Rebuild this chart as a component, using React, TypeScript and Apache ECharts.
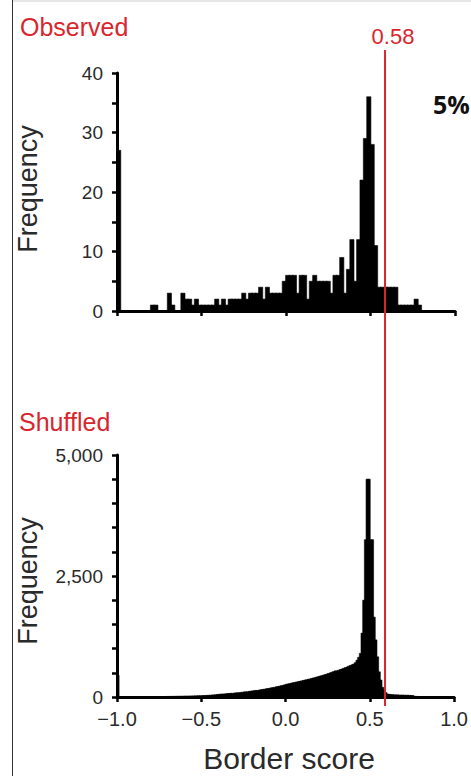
import React, { useEffect, useRef } from "react";
import * as echarts from "echarts";

// Border-score range shared by both histograms
const scoreMin = -1;
const scoreMax = 1;
const scoreTickStep = 0.5;

// Observed cells: counts per 0.02-wide bin, from -1.00 to 1.00
const observedBinWidth = 0.02;
const observedCounts = [
  27, 0, 0, 0, 0, 0, 0, 0, 0, 0,
  1, 1, 0, 0, 0, 3, 1, 0, 0, 3,
  2, 2, 1, 2, 1, 1, 1, 1, 1, 2,
  1, 2, 1, 2, 2, 2, 2, 3, 2, 3,
  3, 3, 4, 2, 4, 3, 3, 3, 3, 5,
  6, 6, 6, 3, 6, 6, 2, 5, 6, 5,
  5, 5, 5, 3, 6, 6, 9, 3, 7, 12,
  5, 12, 22, 29, 36, 28, 11, 4, 4, 4,
  4, 4, 4, 1, 1, 1, 1, 1, 2, 1,
  0, 0, 0, 0, 0, 0, 0, 0, 0, 0,
];

// Shuffled data: counts per 0.01-wide bin, from -1.00 to 1.00
const shuffledBinWidth = 0.01;
const shuffledCounts = [
  450, 8, 6, 5, 4, 4, 3, 4, 3, 4,
  4, 4, 5, 5, 4, 5, 5, 6, 6, 6,
  7, 7, 8, 8, 8, 9, 9, 10, 10, 11,
  11, 12, 12, 13, 13, 14, 15, 15, 16, 17,
  18, 18, 19, 20, 21, 22, 23, 24, 25, 26,
  28, 29, 31, 33, 35, 37, 40, 43, 46, 50,
  55, 58, 62, 60, 66, 70, 72, 76, 74, 80,
  84, 88, 86, 94, 98, 104, 108, 106, 116, 120,
  126, 130, 136, 134, 144, 150, 156, 160, 168, 174,
  180, 188, 194, 200, 210, 216, 224, 232, 240, 250,
  262, 270, 276, 286, 294, 300, 310, 316, 324, 332,
  340, 350, 356, 366, 372, 384, 392, 400, 412, 420,
  432, 440, 452, 462, 472, 486, 498, 510, 524, 540,
  540, 552, 566, 578, 592, 606, 620, 636, 650, 666,
  680, 710, 760, 820, 900, 1320, 2000, 3250, 4500, 4500,
  3250, 3250, 1650, 1180, 830, 520, 350, 200, 150, 90,
  60, 55, 50, 48, 45, 42, 44, 40, 38, 40,
  36, 35, 37, 33, 32, 30, 14, 12, 11, 10,
  9, 8, 7, 7, 6, 5, 5, 4, 4, 3,
  3, 3, 2, 2, 2, 1, 1, 1, 1, 2,
];

// Frequency axes
const observedYMax = 40;
const observedYStep = 5;
const observedYLabelEvery = 10;
const shuffledYMax = 5000;
const shuffledYStep = 500;
const shuffledYLabelEvery = 2500;

// 95th-percentile threshold of the shuffled distribution
const thresholdValue = 0.58;
const thresholdLabel = "0.58";
const percentileLabel = "5%";

const panelTitles = ["Observed", "Shuffled"];
const yAxisTitle = "Frequency";
const xAxisTitle = "Border score";

const RED = "#d8262e";
const INK = "#2a2a2a";
const FONT = "'Liberation Sans', Arial, Helvetica, sans-serif";

function toBins(counts: number[], width: number) {
  return counts.map((c, i) => [
    scoreMin + i * width,
    scoreMin + (i + 1) * width,
    c,
  ]);
}

const renderBin = (_params: any, api: any) => {
  const top = api.coord([api.value(0), api.value(2)]);
  const base = api.coord([api.value(1), 0]);
  return {
    type: "rect",
    shape: {
      x: top[0] - 0.4,
      y: top[1],
      width: base[0] - top[0] + 0.8,
      height: base[1] - top[1],
    },
    style: { fill: "#000", stroke: "#000", lineWidth: 0.6 },
  };
};

function formatScore(v: number) {
  const s = Math.abs(v).toFixed(1);
  return v < 0 ? "\u2212" + s : s;
}

export default function App() {
  const ref = useRef<HTMLDivElement>(null);

  useEffect(() => {
    if (!ref.current) return;
    const chart = echarts.init(ref.current, null, { renderer: "svg" });

    const axisLine = { show: true, onZero: false, lineStyle: { color: "#000", width: 3 } };
    const axisTick = {
      show: true,
      inside: false,
      length: 5,
      lineStyle: { color: "#000", width: 2.5 },
    };

    const xAxisBase = {
      type: "value",
      min: scoreMin,
      max: scoreMax,
      interval: scoreTickStep,
      axisLine,
      axisTick,
      splitLine: { show: false },
    };

    chart.setOption({
      animation: false,
      backgroundColor: "#fff",
      grid: [
        { left: 117, top: 73, width: 338, height: 238 },
        { left: 117, top: 455, width: 338, height: 242 },
      ],
      xAxis: [
        { ...xAxisBase, gridIndex: 0, axisLabel: { show: false } },
        {
          ...xAxisBase,
          gridIndex: 1,
          axisLabel: {
            show: true,
            margin: 12,
            color: INK,
            fontSize: 20,
            fontFamily: FONT,
            formatter: formatScore,
          },
        },
      ],
      yAxis: [
        {
          type: "value",
          gridIndex: 0,
          min: 0,
          max: observedYMax,
          interval: observedYStep,
          axisLine,
          axisTick,
          splitLine: { show: false },
          axisLabel: {
            margin: 14,
            color: INK,
            fontSize: 19,
            fontFamily: FONT,
            formatter: (v: number) =>
              v % observedYLabelEvery === 0 ? String(v) : "",
          },
        },
        {
          type: "value",
          gridIndex: 1,
          min: 0,
          max: shuffledYMax,
          interval: shuffledYStep,
          axisLine,
          axisTick,
          splitLine: { show: false },
          axisLabel: {
            margin: 14,
            color: INK,
            fontSize: 19,
            fontFamily: FONT,
            formatter: (v: number) =>
              v % shuffledYLabelEvery === 0 ? v.toLocaleString("en-US") : "",
          },
        },
      ],
      series: [
        {
          type: "custom",
          xAxisIndex: 0,
          yAxisIndex: 0,
          renderItem: renderBin,
          encode: { x: [0, 1], y: 2 },
          data: toBins(observedCounts, observedBinWidth),
        },
        {
          type: "custom",
          xAxisIndex: 1,
          yAxisIndex: 1,
          renderItem: renderBin,
          encode: { x: [0, 1], y: 2 },
          data: toBins(shuffledCounts, shuffledBinWidth),
        },
      ],
    });

    const lineX = chart.convertToPixel({ xAxisIndex: 0 }, thresholdValue) as number;

    chart.setOption({
      graphic: [
        // page frame
        { type: "rect", shape: { x: 13, y: 0, width: 458, height: 2 }, style: { fill: "#e6e6e6" }, silent: true },
        { type: "line", shape: { x1: 12.5, y1: 0, x2: 12.5, y2: 776 }, style: { stroke: "#333", lineWidth: 1 }, silent: true },
        // threshold line spanning both panels
        {
          type: "line",
          z: 100,
          shape: { x1: lineX + 1, y1: 50, x2: lineX + 1, y2: 706 },
          style: { stroke: RED, lineWidth: 2 },
        },
        {
          type: "text",
          z: 100,
          x: lineX + 9,
          y: 36,
          style: { text: thresholdLabel, fill: RED, font: `22px ${FONT}`, align: "center", verticalAlign: "middle" },
        },
        {
          type: "text",
          z: 100,
          x: 433,
          y: 104,
          style: { text: percentileLabel, fill: "#111", font: `bold 25px 'Open Sans', 'Noto Sans', sans-serif`, align: "left", verticalAlign: "middle" },
        },
        {
          type: "text",
          x: 20,
          y: 27,
          style: { text: panelTitles[0], fill: RED, font: `25px ${FONT}`, align: "left", verticalAlign: "middle" },
        },
        {
          type: "text",
          x: 19,
          y: 422,
          style: { text: panelTitles[1], fill: RED, font: `25px ${FONT}`, align: "left", verticalAlign: "middle" },
        },
        {
          type: "text",
          x: 28,
          y: 189,
          rotation: Math.PI / 2,
          style: { text: yAxisTitle, fill: INK, font: `27px ${FONT}`, align: "center", verticalAlign: "middle" },
        },
        {
          type: "text",
          x: 28,
          y: 581,
          rotation: Math.PI / 2,
          style: { text: yAxisTitle, fill: INK, font: `27px ${FONT}`, align: "center", verticalAlign: "middle" },
        },
        {
          type: "text",
          x: 289,
          y: 758,
          style: { text: xAxisTitle, fill: INK, font: `30px ${FONT}`, align: "center", verticalAlign: "middle" },
        },
      ],
    });

    return () => chart.dispose();
  }, []);

  return (
    <div
      ref={ref}
      style={{ position: "absolute", left: 0, top: 0, width: 471, height: 776 }}
    />
  );
}
